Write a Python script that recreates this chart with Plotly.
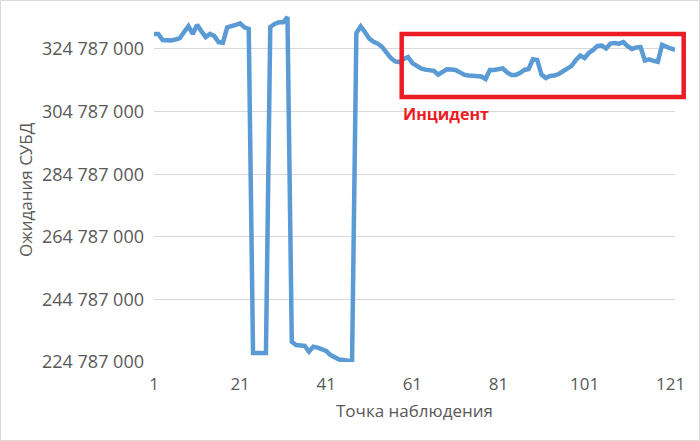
import plotly.graph_objects as go

# Observation index (category axis)
observations = list(range(1, 123))

# DB waits, in millions
waits_millions = [
    329.58, 329.58, 327.66, 327.44, 327.50, 327.82, 328.30, 330.20, 332.10, 329.60,
    332.50, 330.50, 328.60, 329.60, 328.90, 327.00, 326.80, 331.70, 332.00, 332.50,
    333.00, 331.70, 331.20, 227.66, 227.66, 227.66, 227.66, 331.80, 332.80, 333.30,
    333.30, 335.00, 231.27, 230.20, 230.20, 229.90, 228.07, 229.70, 229.40, 228.90,
    228.30, 227.00, 226.40, 225.60, 225.40, 225.10, 224.95, 329.90, 332.00, 330.20,
    328.10, 327.10, 326.50, 325.40, 323.70, 321.90, 320.80, 320.60, 321.60, 322.23,
    320.30, 319.40, 318.60, 318.20, 317.90, 317.80, 316.60, 317.40, 318.30, 318.20,
    318.10, 317.40, 316.60, 316.30, 316.20, 316.20, 316.00, 315.20, 318.10, 318.10,
    318.20, 318.60, 317.30, 316.50, 316.50, 317.10, 318.10, 318.40, 321.50, 321.30,
    316.60, 315.50, 316.20, 316.30, 316.80, 317.80, 318.70, 319.40, 321.30, 322.70,
    321.90, 323.50, 324.50, 325.80, 325.90, 324.95, 326.50, 326.70, 326.50, 327.00,
    325.70, 324.80, 325.30, 325.40, 321.10, 321.50, 321.00, 320.70, 326.10, 325.40,
    324.95, 324.50,
]
waits = [v * 1e6 for v in waits_millions]

x_title = "Точка наблюдения"
y_title = "Ожидания СУБД"
incident_label = "Инцидент"

y_min = 224787000
y_max = 340440000
y_step = 20000000

W, H = 700, 441
L, R, T, B = 154, 25, 0, 79
pw, ph = W - L - R, H - T - B


def px(x):
    return (x - L) / pw


def py(y):
    return (H - B - y) / ph


fig = go.Figure()
fig.add_trace(go.Scatter(
    x=observations, y=waits, mode="lines",
    line=dict(color="#5B9BD5", width=4.5),
    hoverinfo="x+y", showlegend=False,
))

tick_font = dict(family="Open Sans", size=18, color="#595959")

fig.update_layout(
    width=W, height=H,
    margin=dict(l=L, r=R, t=T, b=B, pad=0),
    paper_bgcolor="white", plot_bgcolor="white",
    separators=", ",
    font=dict(family="Open Sans", color="#595959"),
    xaxis=dict(
        range=[1, 122], tick0=1, dtick=20, showgrid=False,
        zeroline=False, showline=False, ticks="", automargin=False,
        tickfont=dict(family="Open Sans", size=17, color="#595959"), ticklabelstandoff=10,
        title=dict(text=x_title, font=dict(family="Open Sans", size=17, color="#595959"), standoff=11),
    ),
    yaxis=dict(
        range=[y_min, y_max], tick0=y_min, dtick=y_step, tickformat=",d",
        showgrid=True, gridcolor="#D9D9D9", gridwidth=1,
        zeroline=False, showline=False, ticks="", automargin=False,
        tickfont=tick_font, ticklabelstandoff=9,
    ),
    shapes=[
        dict(type="rect", xref="paper", yref="paper",
             x0=px(0.5), x1=px(699.5), y0=py(440.5), y1=py(0.5),
             line=dict(color="#D9D9D9", width=1), fillcolor="rgba(0,0,0,0)", layer="below"),
        dict(type="rect", xref="paper", yref="paper",
             x0=px(401.7), x1=px(683.7), y0=py(97), y1=py(34),
             line=dict(color="#EC1C24", width=4.5), fillcolor="rgba(0,0,0,0)"),
    ],
    annotations=[
        dict(text=incident_label, xref="paper", yref="paper",
             x=px(445.5), y=py(114), xanchor="center", yanchor="middle", showarrow=False,
             font=dict(family="Open Sans", size=16, color="#EC1C24", weight="bold")),
        dict(text=y_title, xref="paper", yref="paper",
             x=px(25), y=py(190), xanchor="center", yanchor="middle", showarrow=False,
             textangle=-90, font=dict(family="Open Sans", size=17, color="#595959")),
    ],
)

fig.write_html(
    "out.html",
    config={"displayModeBar": False},
    post_script="document.body.style.margin='0';document.body.style.padding='0';",
)
